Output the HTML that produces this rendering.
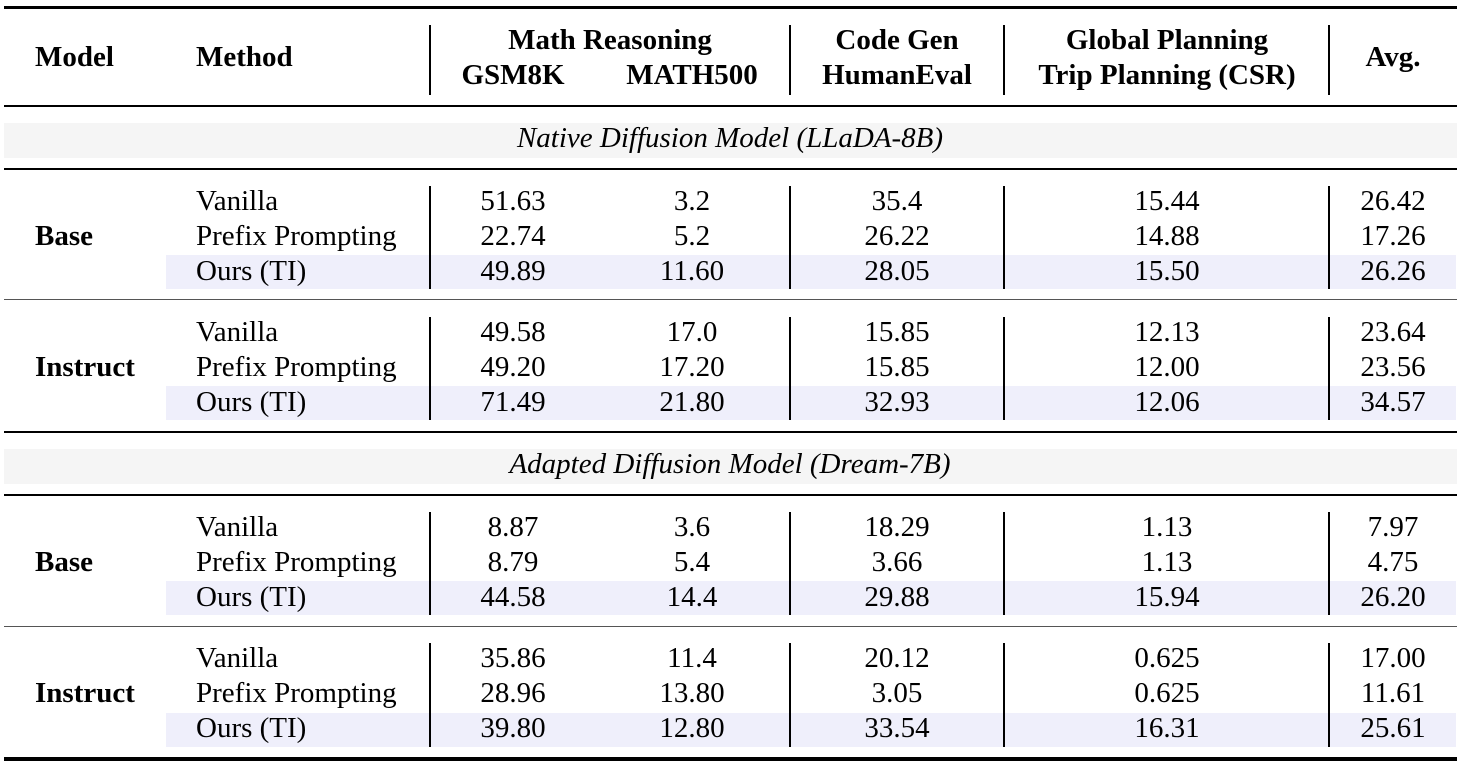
<!DOCTYPE html>
<html><head><meta charset="utf-8"><style>
body{margin:0;width:1461px;height:769px;background:#fff;position:relative;overflow:hidden;font-family:"Liberation Serif",serif;font-size:29px;color:#000}
div{position:absolute}
.r{left:4px;width:1453px;background:#000}
.t{white-space:nowrap;line-height:30px;height:30px}
.c{transform:translateX(-50%)}
.b{font-weight:bold}
.v{width:2px;background:#000}
.hl{left:166px;width:1290px;height:34px;background:#efeffb}
.band{left:4px;width:1453px;height:35px;background:#f5f5f5}
</style></head><body>
<div class="r" style="top:6px;height:3px"></div>
<div class="r" style="top:105px;height:2px"></div>
<div class="band" style="top:123px"></div>
<div class="r" style="top:168px;height:2px"></div>
<div class="hl" style="top:255px"></div>
<div class="r" style="top:299px;height:1px;background:#555"></div>
<div class="hl" style="top:386px"></div>
<div class="r" style="top:431px;height:2px"></div>
<div class="band" style="top:449px"></div>
<div class="r" style="top:494px;height:2px"></div>
<div class="hl" style="top:581px"></div>
<div class="r" style="top:626px;height:1px;background:#555"></div>
<div class="hl" style="top:713px"></div>
<div class="r" style="top:757px;height:4px"></div>

<div class="v" style="left:429px;top:25px;height:70px"></div>
<div class="v" style="left:789px;top:25px;height:70px"></div>
<div class="v" style="left:1003px;top:25px;height:70px"></div>
<div class="v" style="left:1328px;top:25px;height:70px"></div>
<div class="v" style="left:429px;top:186px;height:103px"></div>
<div class="v" style="left:789px;top:186px;height:103px"></div>
<div class="v" style="left:1003px;top:186px;height:103px"></div>
<div class="v" style="left:1328px;top:186px;height:103px"></div>
<div class="v" style="left:429px;top:317px;height:103px"></div>
<div class="v" style="left:789px;top:317px;height:103px"></div>
<div class="v" style="left:1003px;top:317px;height:103px"></div>
<div class="v" style="left:1328px;top:317px;height:103px"></div>
<div class="v" style="left:429px;top:512px;height:103px"></div>
<div class="v" style="left:789px;top:512px;height:103px"></div>
<div class="v" style="left:1003px;top:512px;height:103px"></div>
<div class="v" style="left:1328px;top:512px;height:103px"></div>
<div class="v" style="left:429px;top:643px;height:104px"></div>
<div class="v" style="left:789px;top:643px;height:104px"></div>
<div class="v" style="left:1003px;top:643px;height:104px"></div>
<div class="v" style="left:1328px;top:643px;height:104px"></div>

<div class="t b" style="left:35px;top:42px">Model</div>
<div class="t b" style="left:196px;top:42px">Method</div>
<div class="t b c" style="left:610px;top:25px">Math Reasoning</div>
<div class="t b c" style="left:513px;top:60px">GSM8K</div>
<div class="t b c" style="left:692px;top:60px">MATH500</div>
<div class="t b c" style="left:897px;top:25px">Code Gen</div>
<div class="t b c" style="left:897px;top:60px">HumanEval</div>
<div class="t b c" style="left:1167px;top:25px">Global Planning</div>
<div class="t b c" style="left:1167px;top:60px">Trip Planning (CSR)</div>
<div class="t b c" style="left:1393px;top:42px">Avg.</div>

<div class="t c" style="left:730px;top:123px;font-style:italic">Native Diffusion Model (LLaDA-8B)</div>
<div class="t c" style="left:730px;top:449px;font-style:italic">Adapted Diffusion Model (Dream-7B)</div>

<div class="t b" style="left:35px;top:221px">Base</div>
<div class="t" style="left:196px;top:186px">Vanilla</div>
<div class="t" style="left:196px;top:221px">Prefix Prompting</div>
<div class="t" style="left:196px;top:256px">Ours (TI)</div>
<div class="t c" style="left:513px;top:186px">51.63</div><div class="t c" style="left:692px;top:186px">3.2</div><div class="t c" style="left:897px;top:186px">35.4</div><div class="t c" style="left:1167px;top:186px">15.44</div><div class="t c" style="left:1393px;top:186px">26.42</div>
<div class="t c" style="left:513px;top:221px">22.74</div><div class="t c" style="left:692px;top:221px">5.2</div><div class="t c" style="left:897px;top:221px">26.22</div><div class="t c" style="left:1167px;top:221px">14.88</div><div class="t c" style="left:1393px;top:221px">17.26</div>
<div class="t c" style="left:513px;top:256px">49.89</div><div class="t c" style="left:692px;top:256px">11.60</div><div class="t c" style="left:897px;top:256px">28.05</div><div class="t c" style="left:1167px;top:256px">15.50</div><div class="t c" style="left:1393px;top:256px">26.26</div>

<div class="t b" style="left:35px;top:352px">Instruct</div>
<div class="t" style="left:196px;top:317px">Vanilla</div>
<div class="t" style="left:196px;top:352px">Prefix Prompting</div>
<div class="t" style="left:196px;top:387px">Ours (TI)</div>
<div class="t c" style="left:513px;top:317px">49.58</div><div class="t c" style="left:692px;top:317px">17.0</div><div class="t c" style="left:897px;top:317px">15.85</div><div class="t c" style="left:1167px;top:317px">12.13</div><div class="t c" style="left:1393px;top:317px">23.64</div>
<div class="t c" style="left:513px;top:352px">49.20</div><div class="t c" style="left:692px;top:352px">17.20</div><div class="t c" style="left:897px;top:352px">15.85</div><div class="t c" style="left:1167px;top:352px">12.00</div><div class="t c" style="left:1393px;top:352px">23.56</div>
<div class="t c" style="left:513px;top:387px">71.49</div><div class="t c" style="left:692px;top:387px">21.80</div><div class="t c" style="left:897px;top:387px">32.93</div><div class="t c" style="left:1167px;top:387px">12.06</div><div class="t c" style="left:1393px;top:387px">34.57</div>

<div class="t b" style="left:35px;top:547px">Base</div>
<div class="t" style="left:196px;top:512px">Vanilla</div>
<div class="t" style="left:196px;top:547px">Prefix Prompting</div>
<div class="t" style="left:196px;top:582px">Ours (TI)</div>
<div class="t c" style="left:513px;top:512px">8.87</div><div class="t c" style="left:692px;top:512px">3.6</div><div class="t c" style="left:897px;top:512px">18.29</div><div class="t c" style="left:1167px;top:512px">1.13</div><div class="t c" style="left:1393px;top:512px">7.97</div>
<div class="t c" style="left:513px;top:547px">8.79</div><div class="t c" style="left:692px;top:547px">5.4</div><div class="t c" style="left:897px;top:547px">3.66</div><div class="t c" style="left:1167px;top:547px">1.13</div><div class="t c" style="left:1393px;top:547px">4.75</div>
<div class="t c" style="left:513px;top:582px">44.58</div><div class="t c" style="left:692px;top:582px">14.4</div><div class="t c" style="left:897px;top:582px">29.88</div><div class="t c" style="left:1167px;top:582px">15.94</div><div class="t c" style="left:1393px;top:582px">26.20</div>

<div class="t b" style="left:35px;top:678px">Instruct</div>
<div class="t" style="left:196px;top:643px">Vanilla</div>
<div class="t" style="left:196px;top:678px">Prefix Prompting</div>
<div class="t" style="left:196px;top:713px">Ours (TI)</div>
<div class="t c" style="left:513px;top:643px">35.86</div><div class="t c" style="left:692px;top:643px">11.4</div><div class="t c" style="left:897px;top:643px">20.12</div><div class="t c" style="left:1167px;top:643px">0.625</div><div class="t c" style="left:1393px;top:643px">17.00</div>
<div class="t c" style="left:513px;top:678px">28.96</div><div class="t c" style="left:692px;top:678px">13.80</div><div class="t c" style="left:897px;top:678px">3.05</div><div class="t c" style="left:1167px;top:678px">0.625</div><div class="t c" style="left:1393px;top:678px">11.61</div>
<div class="t c" style="left:513px;top:713px">39.80</div><div class="t c" style="left:692px;top:713px">12.80</div><div class="t c" style="left:897px;top:713px">33.54</div><div class="t c" style="left:1167px;top:713px">16.31</div><div class="t c" style="left:1393px;top:713px">25.61</div>
</body></html>
